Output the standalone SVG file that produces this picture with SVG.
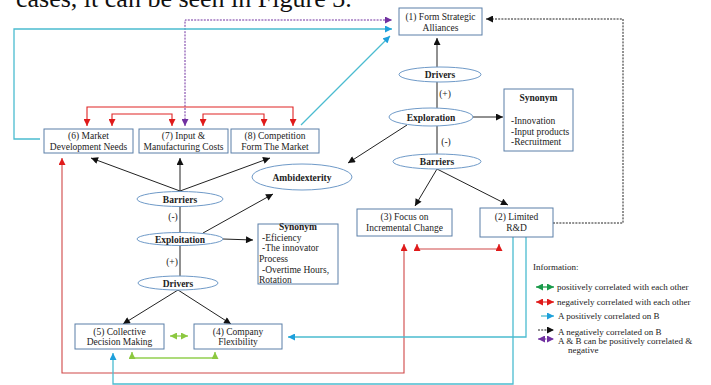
<svg xmlns="http://www.w3.org/2000/svg" width="711" height="385" viewBox="0 0 711 385">
<style>
.box{fill:#fff;stroke:#5a7fa8;stroke-width:1}
.ell{fill:#fff;stroke:#6f9ac8;stroke-width:1}
.t{font-family:"Liberation Serif","Times New Roman",serif;font-size:9.5px;fill:#222;text-anchor:middle}
.tl{font-family:"Liberation Serif","Times New Roman",serif;font-size:9.5px;fill:#222}
.tb{font-family:"Liberation Serif","Times New Roman",serif;font-size:9.5px;font-weight:bold;fill:#222;text-anchor:middle}
.lg{font-family:"Liberation Serif","Times New Roman",serif;font-size:9px;fill:#222}
.k{fill:none;stroke:#222;stroke-width:1}
.kd{fill:none;stroke:#222;stroke-width:1;stroke-dasharray:2,1.2}
.r{fill:none;stroke:#e02424;stroke-width:1.1}
.r2{fill:none;stroke:#d04848;stroke-width:1.1}
.c{fill:none;stroke:#4bbcd0;stroke-width:1.3}
.p{fill:none;stroke:#7030a0;stroke-width:1;stroke-dasharray:2,1.2}
.g{fill:none;stroke:#92d050;stroke-width:1.3}
.gg{fill:none;stroke:#22a050;stroke-width:1.3}
</style>
<defs>
<marker id="mk" viewBox="0 0 10 10" refX="10" refY="5" markerWidth="8" markerHeight="7" markerUnits="userSpaceOnUse" orient="auto-start-reverse"><path d="M0,0L10,5L0,10z" fill="#111"/></marker>
<marker id="mr" viewBox="0 0 10 10" refX="10" refY="5" markerWidth="8" markerHeight="7" markerUnits="userSpaceOnUse" orient="auto-start-reverse"><path d="M0,0L10,5L0,10z" fill="#e01a1a"/></marker>
<marker id="mc" viewBox="0 0 10 10" refX="10" refY="5" markerWidth="8" markerHeight="7" markerUnits="userSpaceOnUse" orient="auto-start-reverse"><path d="M0,0L10,5L0,10z" fill="#1ea0dc"/></marker>
<marker id="mp" viewBox="0 0 10 10" refX="10" refY="5" markerWidth="8" markerHeight="7" markerUnits="userSpaceOnUse" orient="auto-start-reverse"><path d="M0,0L10,5L0,10z" fill="#7030a0"/></marker>
<marker id="mg" viewBox="0 0 10 10" refX="10" refY="5" markerWidth="8" markerHeight="7" markerUnits="userSpaceOnUse" orient="auto-start-reverse"><path d="M0,0L10,5L0,10z" fill="#8cc840"/></marker>
<marker id="mgg" viewBox="0 0 10 10" refX="10" refY="5" markerWidth="8" markerHeight="7" markerUnits="userSpaceOnUse" orient="auto-start-reverse"><path d="M0,0L10,5L0,10z" fill="#1a9a4a"/></marker>
</defs>
<rect width="711" height="385" fill="#fff"/>
<text x="16" y="7" font-family="Liberation Serif, Times New Roman, serif" font-size="26" fill="#111">cases, it can be seen in Figure 3.</text>

<g id="connectors">
<path class="p" d="M185,126V20H392" marker-start="url(#mp)" marker-end="url(#mp)"/>
<path class="c" d="M40,139H14V29H392" marker-end="url(#mc)"/>
<path class="c" d="M301,125L390,36" marker-end="url(#mc)"/>
<path class="r" d="M87,126V107H293V126" marker-start="url(#mr)" marker-end="url(#mr)"/>
<path class="r" d="M112,126V114H172V126" marker-start="url(#mr)" marker-end="url(#mr)"/>
<path class="r" d="M203,126V114H264V126" marker-start="url(#mr)" marker-end="url(#mr)"/>
<path class="k" d="M180,191L91,158" marker-end="url(#mk)"/>
<path class="k" d="M180,191V158" marker-end="url(#mk)"/>
<path class="k" d="M180,191L270,158" marker-end="url(#mk)"/>
<path class="k" d="M180,206V232"/>
<path class="k" d="M203,233L273,194" marker-end="url(#mk)"/>
<path class="k" d="M223,239L253,240" marker-end="url(#mk)"/>
<path class="k" d="M180,246V276"/>
<path class="k" d="M178,290L123,324" marker-end="url(#mk)"/>
<path class="k" d="M178,290L231,324" marker-end="url(#mk)"/>
<path class="k" d="M437,67V38" marker-end="url(#mk)"/>
<path class="k" d="M437,82V108"/>
<path class="k" d="M473,117L503,117" marker-end="url(#mk)"/>
<path class="k" d="M407,125L348,163" marker-end="url(#mk)"/>
<path class="k" d="M437,126V154"/>
<path class="k" d="M437,169L415,206" marker-end="url(#mk)"/>
<path class="k" d="M437,169L508,205" marker-end="url(#mk)"/>
<path class="kd" d="M553,223H623V19H486" marker-end="url(#mk)"/>
<path class="r2" d="M62,158V373H404V244" marker-start="url(#mr)" marker-end="url(#mr)"/>
<path class="r2" d="M417,244V249H499V244" marker-start="url(#mr)" marker-end="url(#mr)"/>
<path class="c" d="M526,237V337H288" marker-end="url(#mc)"/>
<path class="c" d="M513,237V384H113V353" marker-end="url(#mc)"/>
<path class="g" d="M170,336H188" marker-start="url(#mg)" marker-end="url(#mg)"/>
<path class="g" d="M132,352V358H215V352" marker-start="url(#mg)" marker-end="url(#mg)"/>
</g>

<g id="n1"><rect class="box" x="399" y="8" width="83" height="27"/><text class="t" x="440.5" y="20">(1) Form Strategic</text><text class="t" x="440.5" y="30.5">Alliances</text></g>
<g id="n6"><rect class="box" x="44" y="129" width="89" height="24"/><text class="t" x="88.5" y="139">(6) Market</text><text class="t" x="88.5" y="150">Development Needs</text></g>
<g id="n7"><rect class="box" x="139" y="129" width="89" height="24"/><text class="t" x="183.5" y="139">(7) Input &amp;</text><text class="t" x="183.5" y="150">Manufacturing Costs</text></g>
<g id="n8"><rect class="box" x="231" y="129" width="88" height="24"/><text class="t" x="275" y="139">(8) Competition</text><text class="t" x="275" y="150">Form The Market</text></g>
<g id="ambidexterity"><ellipse class="ell" cx="302" cy="177" rx="50" ry="13"/><text class="tb" x="302" y="180.5" font-size="10">Ambidexterity</text></g>
<g id="barriersL"><ellipse class="ell" cx="180" cy="199" rx="43" ry="7.5"/><text class="tb" x="180" y="202.5">Barriers</text></g>
<text class="t" x="173" y="219.5">(-)</text>
<g id="exploitation"><ellipse class="ell" cx="180" cy="239" rx="43" ry="6.5"/><text class="tb" x="180" y="242.5">Exploitation</text></g>
<text class="t" x="172" y="265">(+)</text>
<g id="driversL"><ellipse class="ell" cx="178" cy="283" rx="40" ry="7"/><text class="tb" x="178" y="286.5">Drivers</text></g>
<g id="synL"><rect class="box" x="258" y="224" width="80" height="60"/><text class="tb" x="298" y="230">Synonym</text><text class="tl" x="262" y="241">-Eficiency</text><text class="tl" x="262" y="251">-The innovator</text><text class="tl" x="259" y="262">Process</text><text class="tl" x="262" y="273">-Overtime Hours,</text><text class="tl" x="259" y="283">Rotation</text></g>
<g id="n5"><rect class="box" x="75" y="324" width="89" height="25"/><text class="t" x="119.5" y="334.5">(5) Collective</text><text class="t" x="119.5" y="345">Decision Making</text></g>
<g id="n4"><rect class="box" x="194" y="324" width="88" height="25"/><text class="t" x="238" y="334.5">(4) Company</text><text class="t" x="238" y="345">Flexibility</text></g>
<g id="driversR"><ellipse class="ell" cx="440" cy="74.5" rx="41" ry="7.5"/><text class="tb" x="440" y="78">Drivers</text></g>
<text class="t" x="445" y="97">(+)</text>
<g id="exploration"><ellipse class="ell" cx="431" cy="117" rx="42" ry="9"/><text class="tb" x="431" y="120.5">Exploration</text></g>
<g id="synU"><rect class="box" x="504" y="89" width="69" height="62"/><text class="tb" x="538.5" y="101">Synonym</text><text class="tl" x="511" y="124">-Innovation</text><text class="tl" x="511" y="134.5">-Input products</text><text class="tl" x="511" y="145">-Recruitment</text></g>
<text class="t" x="446" y="144.5">(-)</text>
<g id="barriersR"><ellipse class="ell" cx="437" cy="161.5" rx="44" ry="7.5"/><text class="tb" x="437" y="165">Barriers</text></g>
<g id="n3"><rect class="box" x="357" y="209" width="95" height="27"/><text class="t" x="404.5" y="220">(3) Focus on</text><text class="t" x="404.5" y="231">Incremental Change</text></g>
<g id="n2"><rect class="box" x="480" y="208" width="73" height="29"/><text class="t" x="516.5" y="219.5">(2) Limited</text><text class="t" x="516.5" y="230.5">R&amp;D</text></g>

<g id="legend">
<text class="lg" x="533" y="270" font-size="10">Information:</text>
<path class="gg" d="M536,287H554" marker-start="url(#mgg)" marker-end="url(#mgg)"/>
<text class="lg" x="557" y="290">positively correlated with each other</text>
<path class="r" d="M536,302H554" marker-start="url(#mr)" marker-end="url(#mr)"/>
<text class="lg" x="557" y="305">negatively correlated with each other</text>
<path class="c" d="M541,316H554" marker-end="url(#mc)"/>
<text class="lg" x="558" y="319">A positively correlated on B</text>
<path class="kd" d="M538,330H554" marker-end="url(#mk)"/>
<text class="lg" x="558" y="334.5">A negatively correlated on B</text>
<path class="p" d="M538,339H554" marker-start="url(#mp)" marker-end="url(#mp)"/>
<text class="lg" x="558" y="343.5">A &amp; B can be  positively correlated &amp;</text>
<text class="lg" x="568" y="353">negative</text>
</g>
</svg>
